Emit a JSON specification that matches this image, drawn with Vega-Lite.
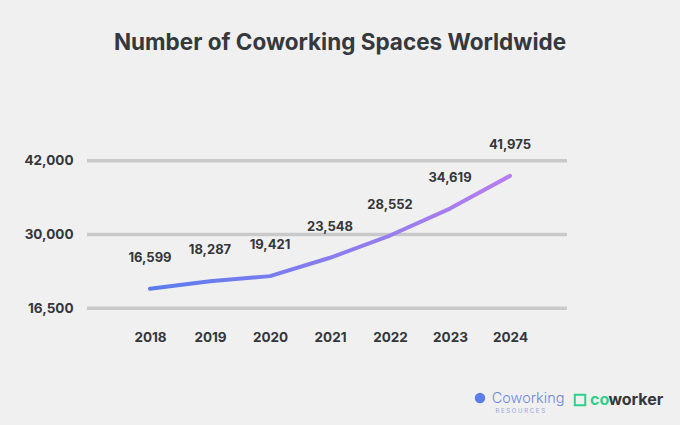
{
  "$schema": "https://vega.github.io/schema/vega-lite/v6.json",
  "autosize": {"type": "none"},
  "width": 480,
  "height": 147.6,
  "padding": {"left": 87, "top": 160.7, "right": 113, "bottom": 116.7},
  "background": "#f0f0f0",
  "config": {
    "view": {"stroke": null},
    "font": "Inter",
    "axis": {"labelFont": "Inter", "labelFontWeight": "bold", "labelColor": "#33363b", "labelFontSize": 13.5}
  },
  "title": {
    "text": "Number of Coworking Spaces Worldwide",
    "font": "Inter",
    "fontSize": 22.5,
    "fontWeight": "bold",
    "color": "#35383d",
    "anchor": "middle",
    "dx": 13,
    "offset": 84
  },
  "resolve": {"scale": {"y": "independent"}},
  "layer": [
    {
      "data": {"values": [{"tick": 16500}, {"tick": 30000}, {"tick": 42000}]},
      "mark": {"type": "rule", "color": "#c9c9c9", "strokeWidth": 3.5},
      "encoding": {
        "y": {
          "field": "tick",
          "type": "quantitative",
          "scale": {"domain": [16500, 30000, 42000], "range": [147.6, 73.8, 0], "nice": false, "zero": false},
          "axis": {
            "values": [16500, 30000, 42000],
            "format": ",d",
            "grid": false,
            "ticks": false,
            "domain": false,
            "labelPadding": 14,
            "title": null
          }
        }
      }
    },
    {
      "data": {
        "values": [
          {"year": 2018, "spaces": 16599},
          {"year": 2019, "spaces": 18287},
          {"year": 2020, "spaces": 19421},
          {"year": 2021, "spaces": 23548},
          {"year": 2022, "spaces": 28552},
          {"year": 2023, "spaces": 34619},
          {"year": 2024, "spaces": 41975}
        ]
      },
      "encoding": {
        "x": {
          "field": "year",
          "type": "quantitative",
          "scale": {"domain": [2016.95, 2024.95], "nice": false, "zero": false},
          "axis": {
            "values": [2018, 2019, 2020, 2021, 2022, 2023, 2024],
            "format": "d",
            "grid": false,
            "ticks": false,
            "domain": false,
            "labelPadding": 22,
            "title": null
          }
        },
        "y": {
          "field": "spaces",
          "type": "quantitative",
          "scale": {"domain": [12180, 45390], "nice": false, "zero": false},
          "axis": null
        }
      },
      "layer": [
        {
          "mark": {
            "type": "line",
            "strokeWidth": 4,
            "strokeCap": "round",
            "strokeJoin": "round",
            "color": {
              "gradient": "linear",
              "x1": 0, "y1": 0, "x2": 1, "y2": 0,
              "stops": [
                {"offset": 0, "color": "#5a7cef"},
                {"offset": 1, "color": "#b77def"}
              ]
            }
          }
        },
        {
          "mark": {"type": "text", "dy": -31, "font": "Inter", "fontSize": 13, "fontWeight": "bold", "color": "#33363b"},
          "encoding": {"text": {"field": "spaces", "type": "quantitative", "format": ","}}
        }
      ]
    },
    {
      "data": {"values": [{"brand": "Coworking"}]},
      "layer": [
        {
          "mark": {"type": "point", "shape": "circle", "filled": true, "size": 110, "color": "#5b7ee8", "opacity": 1},
          "encoding": {"x": {"datum": 2023.5, "type": "quantitative"}, "y": {"datum": -8000, "type": "quantitative", "scale": {"domain": [12180, 45390], "nice": false, "zero": false}, "axis": null}}
        },
        {
          "mark": {"type": "text", "align": "left", "baseline": "middle", "font": "Inter", "fontSize": 14.5, "fontWeight": 300, "color": "#6f86e6"},
          "encoding": {"text": {"field": "brand"}, "x": {"datum": 2023.695, "type": "quantitative"}, "y": {"datum": -8300, "type": "quantitative"}}
        },
        {
          "mark": {"type": "text", "align": "center", "baseline": "middle", "font": "Inter", "fontSize": 6, "color": "#9aa6d8"},
          "encoding": {"text": {"value": "R E S O U R C E S"}, "x": {"datum": 2024.17, "type": "quantitative"}, "y": {"datum": -10900, "type": "quantitative"}}
        },
        {
          "mark": {"type": "point", "shape": "square", "filled": false, "strokeWidth": 2, "size": 110, "color": "#2ecf8a", "opacity": 1},
          "encoding": {"x": {"datum": 2025.167, "type": "quantitative"}, "y": {"datum": -8452, "type": "quantitative"}}
        },
        {
          "mark": {"type": "text", "align": "left", "baseline": "middle", "font": "Inter", "fontSize": 16, "fontWeight": "bold", "color": "#2ecf8a"},
          "encoding": {"text": {"value": "co"}, "x": {"datum": 2025.333, "type": "quantitative"}, "y": {"datum": -8452, "type": "quantitative"}}
        },
        {
          "mark": {"type": "text", "align": "left", "baseline": "middle", "font": "Inter", "fontSize": 16, "fontWeight": "bold", "color": "#34373c"},
          "encoding": {"text": {"value": "worker"}, "x": {"datum": 2025.64, "type": "quantitative"}, "y": {"datum": -8452, "type": "quantitative"}}
        }
      ]
    }
  ]
}
